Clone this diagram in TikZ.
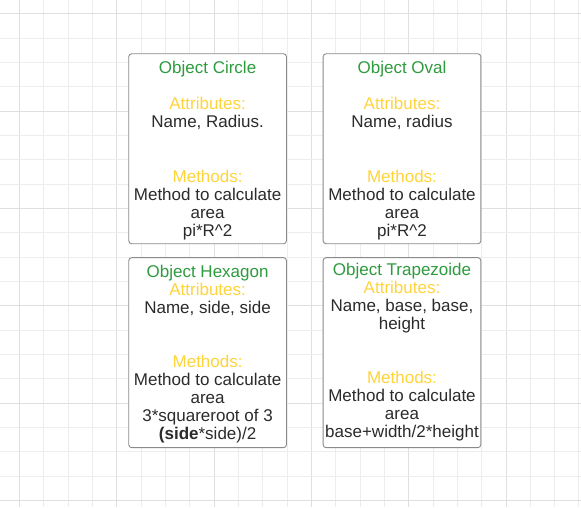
\documentclass[tikz,border=0pt]{standalone}
\usepackage{fontspec}
\setmainfont{Liberation Sans}
\definecolor{gridminor}{HTML}{EDEDED}
\definecolor{gridmajor}{HTML}{DFDFDF}
\definecolor{boxline}{HTML}{8A8A8A}
\definecolor{titlegreen}{HTML}{2E9B3E}
\definecolor{headyellow}{HTML}{FFD43B}
\definecolor{bodytext}{HTML}{2B2B2B}
\newcommand{\clstitle}[1]{{\color{titlegreen}#1}}
\newcommand{\clshead}[1]{{\color{headyellow}#1}}
\begin{document}
\begin{tikzpicture}[x=1pt,y=-1pt,
  classbox/.style={draw=boxline, line width=0.9pt, rounded corners=3pt, fill=white,
    minimum width=157.7pt, minimum height=190pt, inner sep=0pt, anchor=north west},
  classtext/.style={anchor=north, align=center, inner sep=0pt, text=bodytext,
    font=\fontsize{17}{18.05}\selectfont},
  gridline/.style={line width=0.8pt}]
% canvas
\fill[white] (0,0) rectangle (581,507);
\useasboundingbox (0,0) rectangle (581,507);
% background grid, a darker line every fourth cell
\foreach \k in {0,...,23}{
  \pgfmathsetmacro\gx{19.3+24.33*\k}
  \pgfmathtruncatemacro\gm{mod(\k,4)}
  \ifnum\gm=0
    \draw[gridline, gridmajor] (\gx,0) -- (\gx,507);
  \else
    \draw[gridline, gridminor] (\gx,0) -- (\gx,507);
  \fi
}
\foreach \k in {0,...,20}{
  \pgfmathsetmacro\gy{13.7+24.33*\k}
  \pgfmathtruncatemacro\gm{mod(\k,4)}
  \ifnum\gm=0
    \draw[gridline, gridmajor] (0,\gy) -- (581,\gy);
  \else
    \draw[gridline, gridminor] (0,\gy) -- (581,\gy);
  \fi
}
% class boxes
\node[classbox] (circleBox) at (128.3,53.3) {};
\node[classbox] (ovalBox) at (322.7,53.3) {};
\node[classbox] (hexagonBox) at (128.3,257.2) {};
\node[classbox] (trapezoideBox) at (322.7,257.2) {};
% class contents
\node[classtext] (circleText) at ([yshift=-8pt]circleBox.north) {%
  \clstitle{Object Circle}\\ \mbox{}\\
  \clshead{Attributes:}\\ Name, Radius.\\ \mbox{}\\ \mbox{}\\
  \clshead{Methods:}\\ Method to calculate\\ area\\ pi*R\textasciicircum 2};
\node[classtext] (ovalText) at ([yshift=-8pt]ovalBox.north) {%
  \clstitle{Object Oval}\\ \mbox{}\\
  \clshead{Attributes:}\\ Name, radius\\ \mbox{}\\ \mbox{}\\
  \clshead{Methods:}\\ Method to calculate\\ area\\ pi*R\textasciicircum 2};
\node[classtext] (hexagonText) at ([yshift=-7.5pt]hexagonBox.north) {%
  \clstitle{Object Hexagon}\\
  \clshead{Attributes:}\\ Name, side, side\\ \mbox{}\\ \mbox{}\\
  \clshead{Methods:}\\ Method to calculate\\ area\\ 3*squareroot of 3\\
  \textbf{(side}*side)/2};
\node[classtext] (trapezoideText) at ([yshift=-5.5pt]trapezoideBox.north) {%
  \clstitle{Object Trapezoide}\\
  \clshead{Attributes:}\\ Name, base, base,\\ height\\ \mbox{}\\ \mbox{}\\
  \clshead{Methods:}\\ Method to calculate\\ area\\ base+width/2*height};
\end{tikzpicture}
\end{document}
